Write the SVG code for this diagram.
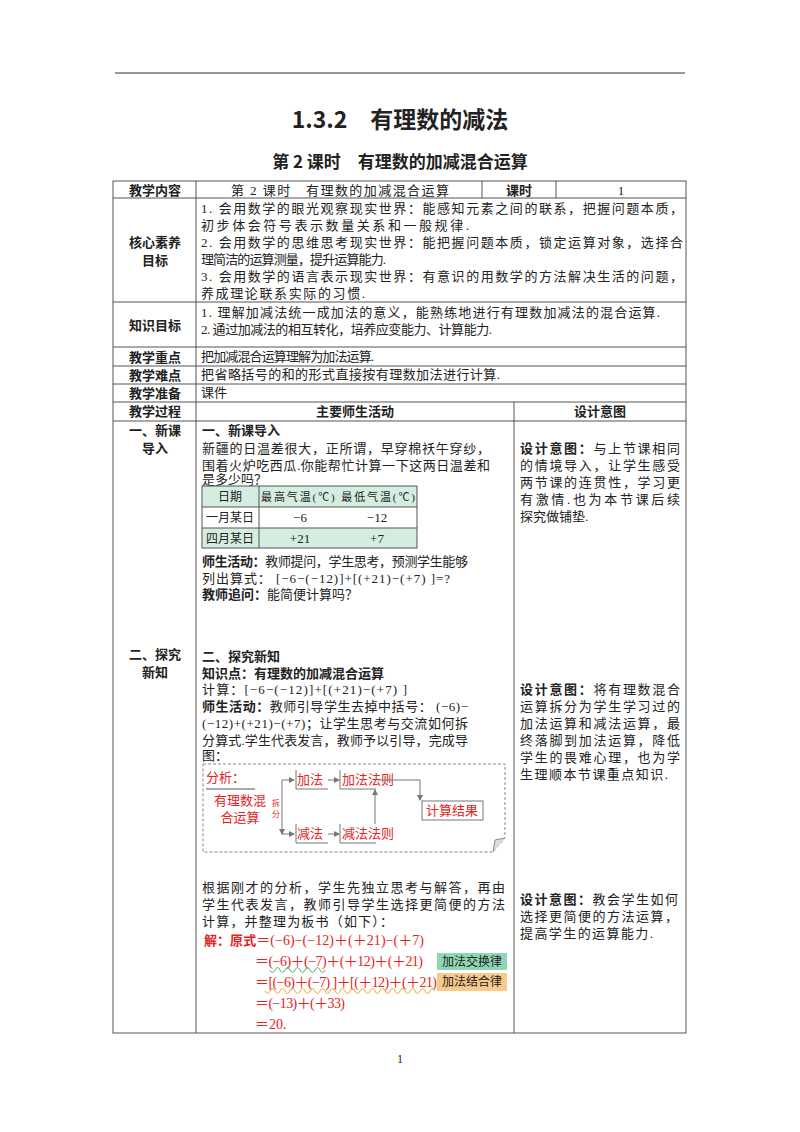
<svg xmlns="http://www.w3.org/2000/svg" width="800" height="1132" viewBox="0 0 800 1132">
<style>
text{font-family:"Liberation Serif","Noto Sans CJK SC",serif;font-size:13px;fill:#222}
.b{font-family:"Noto Sans CJK SC",sans-serif;font-weight:bold}
.c{text-anchor:middle}
.r{fill:#e52222;font-size:14px}
.g{stroke:#555;stroke-width:1;fill:none}
.bx{fill:#fff;stroke:#777;stroke-width:1}
.rs{font-family:"Noto Sans CJK SC",sans-serif;fill:#e52222;font-size:13px}
</style>
<defs><marker id="a" markerWidth="6" markerHeight="6" refX="5" refY="3" orient="auto"><path d="M0,0L6,3L0,6z" fill="#777"/></marker></defs>
<rect width="800" height="1132" fill="#fff"/>
<line x1="115" y1="73" x2="685" y2="73" stroke="#333"/>
<text x="400" y="128" class="c b" style="font-size:23px">1.3.2　有理数的减法</text>
<text x="400" y="168" class="c b" style="font-size:17px">第 2 课时　有理数的加减混合运算</text>
<g id="table" class="g">
<rect x="113" y="181" width="573" height="852"/>
<path d="M113 198H686M113 302H686M113 347H686M113 366H686M113 384H686M113 402H686M113 421H686"/>
<path d="M196 181V1033M482 181V198M556 181V198M514 402V1033"/>
</g>
<g id="texts">
<text x="155" y="195" class="c b">教学内容</text>
<text x="340" y="195" class="c" textLength="218">第 2 课时　有理数的加减混合运算</text>
<text x="519" y="195" class="c b">课时</text>
<text x="621" y="195" class="c">1</text>
<text x="155" y="247" class="c b">核心素养</text>
<text x="155" y="265" class="c b">目标</text>
<text x="201" y="213" textLength="482">1.  会用数学的眼光观察现实世界：能感知元素之间的联系，把握问题本质，</text>
<text x="201" y="230" textLength="268">初步体会符号表示数量关系和一般规律.</text>
<text x="201" y="247" textLength="482">2.  会用数学的思维思考现实世界：能把握问题本质，锁定运算对象，选择合</text>
<text x="201" y="264" textLength="185">理简洁的运算测量，提升运算能力.</text>
<text x="201" y="281" textLength="482">3.  会用数学的语言表示现实世界：有意识的用数学的方法解决生活的问题，</text>
<text x="201" y="298" textLength="164">养成理论联系实际的习惯.</text>
<text x="155" y="330" class="c b">知识目标</text>
<text x="201" y="317" textLength="459">1. 理解加减法统一成加法的意义，能熟练地进行有理数加减法的混合运算.</text>
<text x="201" y="334" textLength="291">2. 通过加减法的相互转化，培养应变能力、计算能力.</text>
<text x="155" y="362" class="c b">教学重点</text>
<text x="201" y="361" textLength="173">把加减混合运算理解为加法运算.</text>
<text x="155" y="380" class="c b">教学难点</text>
<text x="201" y="379" textLength="299">把省略括号的和的形式直接按有理数加法进行计算.</text>
<text x="155" y="398" class="c b">教学准备</text>
<text x="201" y="397">课件</text>
<text x="155" y="416" class="c b">教学过程</text>
<text x="355" y="416" class="c b">主要师生活动</text>
<text x="600" y="416" class="c b">设计意图</text>
<text x="155" y="435" class="c b">一、新课</text>
<text x="155" y="453" class="c b">导入</text>
<text x="202" y="435" class="b">一、新课导入</text>
<text x="202" y="453" textLength="288">新疆的日温差很大，正所谓，早穿棉袄午穿纱，</text>
<text x="202" y="470" textLength="288">围着火炉吃西瓜.你能帮忙计算一下这两日温差和</text>
<text x="202" y="484">是多少吗？</text>
<text x="202" y="566" textLength="266"><tspan class="b">师生活动：</tspan>教师提问，学生思考，预测学生能够</text>
<text x="202" y="583" textLength="248">列出算式：  [−6−(−12)]+[(+21)−(+7) ]=?</text>
<text x="202" y="599"><tspan class="b">教师追问：</tspan>能简便计算吗？</text>
<text x="520" y="453" textLength="160"><tspan class="b">设计意图：</tspan>与上节课相同</text>
<text x="520" y="470" textLength="160">的情境导入，让学生感受</text>
<text x="520" y="487" textLength="160">两节课的连贯性，学习更</text>
<text x="520" y="504" textLength="160">有激情.也为本节课后续</text>
<text x="520" y="521">探究做铺垫.</text>
</g>
<g id="temp-table">
<rect x="202" y="486" width="215" height="21" fill="#d5ece0"/>
<rect x="202" y="528" width="215" height="20" fill="#d5ece0"/>
<rect x="202" y="486" width="215" height="62" fill="none" stroke="#555"/>
<path d="M202 507H417M202 528H417M259 486V548" stroke="#555"/>
<text x="230" y="501" class="c" style="font-size:12px">日期</text>
<text x="338" y="501" class="c" style="font-size:11px" textLength="154">最高气温(℃) 最低气温(℃)</text>
<text x="230" y="522" class="c" style="font-size:12px">一月某日</text>
<text x="230" y="543" class="c" style="font-size:12px">四月某日</text>
<text x="300" y="522" class="c">−6</text><text x="377" y="522" class="c">−12</text>
<text x="300" y="543" class="c">+21</text><text x="377" y="543" class="c">+7</text>
</g>
<g id="sec2">
<text x="155" y="659" class="c b">二、探究</text>
<text x="155" y="677" class="c b">新知</text>
<text x="202" y="661" class="b">二、探究新知</text>
<text x="202" y="678" class="b">知识点：有理数的加减混合运算</text>
<text x="202" y="694" textLength="205">计算：[−6−(−12)]+[(+21)−(+7)  ]</text>
<text x="202" y="711" textLength="266"><tspan class="b">师生活动：</tspan>教师引导学生去掉中括号：  (−6)−</text>
<text x="202" y="728" textLength="266">(−12)+(+21)−(+7)；让学生思考与交流如何拆</text>
<text x="202" y="745" textLength="266">分算式.学生代表发言，教师予以引导，完成导</text>
<text x="202" y="760">图：</text>
<text x="520" y="694" textLength="160"><tspan class="b">设计意图：</tspan>将有理数混合</text>
<text x="520" y="711" textLength="160">运算拆分为学生学习过的</text>
<text x="520" y="728" textLength="160">加法运算和减法运算，最</text>
<text x="520" y="745" textLength="160">终落脚到加法运算，降低</text>
<text x="520" y="762" textLength="160">学生的畏难心理，也为学</text>
<text x="520" y="779" textLength="148">生理顺本节课重点知识.</text>
</g>
<g id="flow">
<path d="M203 764H505V838L493 852H203Z" fill="#fff" stroke="#888" stroke-dasharray="3,2"/>
<path d="M493 852L495 840L505 838" fill="#ddd" stroke="#888"/>
<text x="206" y="782" class="rs">分析：</text>
<line x1="206" y1="789" x2="255" y2="789" stroke="#555"/>
<text x="240" y="805" class="rs c">有理数混</text>
<text x="240" y="822" class="rs c">合运算</text>
<text x="272" y="806" class="rs" style="font-size:8px">拆</text>
<text x="272" y="817" class="rs" style="font-size:8px">分</text>
<g id="jiafa"><path d="M296 770V789H328" class="bx" fill="none"/><text x="297" y="784" class="rs">加法</text></g>
<g id="jianfa"><path d="M296 824V843H328" class="bx" fill="none"/><text x="297" y="838" class="rs">减法</text></g>
<g id="jiafazz"><path d="M340 770V789H376" class="bx" fill="none"/><text x="342" y="784" class="rs">加法法则</text></g>
<g id="jianfazz"><path d="M340 824V843H376" class="bx" fill="none"/><text x="342" y="838" class="rs">减法法则</text></g>
<g id="result"><rect x="422" y="801" width="61" height="19" class="bx"/><text x="452" y="815" class="rs c">计算结果</text></g>
<g id="connectors" fill="none" stroke="#777" marker-end="url(#a)">
<path d="M282 780V834"/>
<path d="M282 780H294"/>
<path d="M282 834H294"/>
<path d="M328 780H339"/>
<path d="M328 834H339"/>
<path d="M375 824V790"/>
<path d="M378 780H420V800"/>
</g>
</g>
<g id="sec3">
<text x="202" y="892" textLength="303">根据刚才的分析，学生先独立思考与解答，再由</text>
<text x="202" y="909" textLength="303">学生代表发言，教师引导学生选择更简便的方法</text>
<text x="202" y="926" textLength="191">计算，并整理为板书（如下）：</text>
<text x="520" y="904" textLength="158"><tspan class="b">设计意图：</tspan>教会学生如何</text>
<text x="520" y="921" textLength="158">选择更简便的方法运算，</text>
<text x="520" y="938" textLength="133">提高学生的运算能力.</text>
<text x="204" y="945" class="r" textLength="220"><tspan class="b r" style="font-size:13px">解：原式</tspan>＝(−6)−(−12)＋(＋21)−(＋7)</text>
<text x="255" y="966" class="r" textLength="168">＝(−6)＋(−7)＋(＋12)＋(＋21)</text>
<text x="255" y="987" class="r" textLength="182">＝[(−6)＋(−7) ]＋[(＋12)＋(＋21)</text>
<text x="255" y="1008" class="r" textLength="90">＝(−13)＋(＋33)</text>
<text x="255" y="1029" class="r">＝20.</text>
<path d="M270 970q2.5 5 5 0t5 0t5 0t5 0t5 0t5 0t5 0t5 0t5 0t5 0t5 0" fill="none" stroke="#3cb878"/>
<path d="M265 991q2.5 5 5 0t5 0t5 0t5 0t5 0t5 0t5 0t5 0t5 0t5 0t5 0t5 0t5 0t5 0t5 0t5 0t5 0t5 0t5 0t5 0t5 0t5 0t5 0t5 0t5 0t5 0t5 0t5 0t5 0t5 0t5 0t5 0t5 0t5 0" fill="none" stroke="#f0a830"/>
<rect x="437" y="953" width="70" height="17" fill="#8fd6b4"/>
<text x="472" y="966" class="c" style="font-family:'Noto Sans CJK SC',sans-serif;font-size:12px">加法交换律</text>
<rect x="437" y="973" width="70" height="18" fill="#f7c98a"/>
<text x="472" y="986" class="c" style="font-family:'Noto Sans CJK SC',sans-serif;font-size:12px">加法结合律</text>
</g>
<text x="400" y="1063" class="c" style="font-size:12px">1</text>
</svg>
